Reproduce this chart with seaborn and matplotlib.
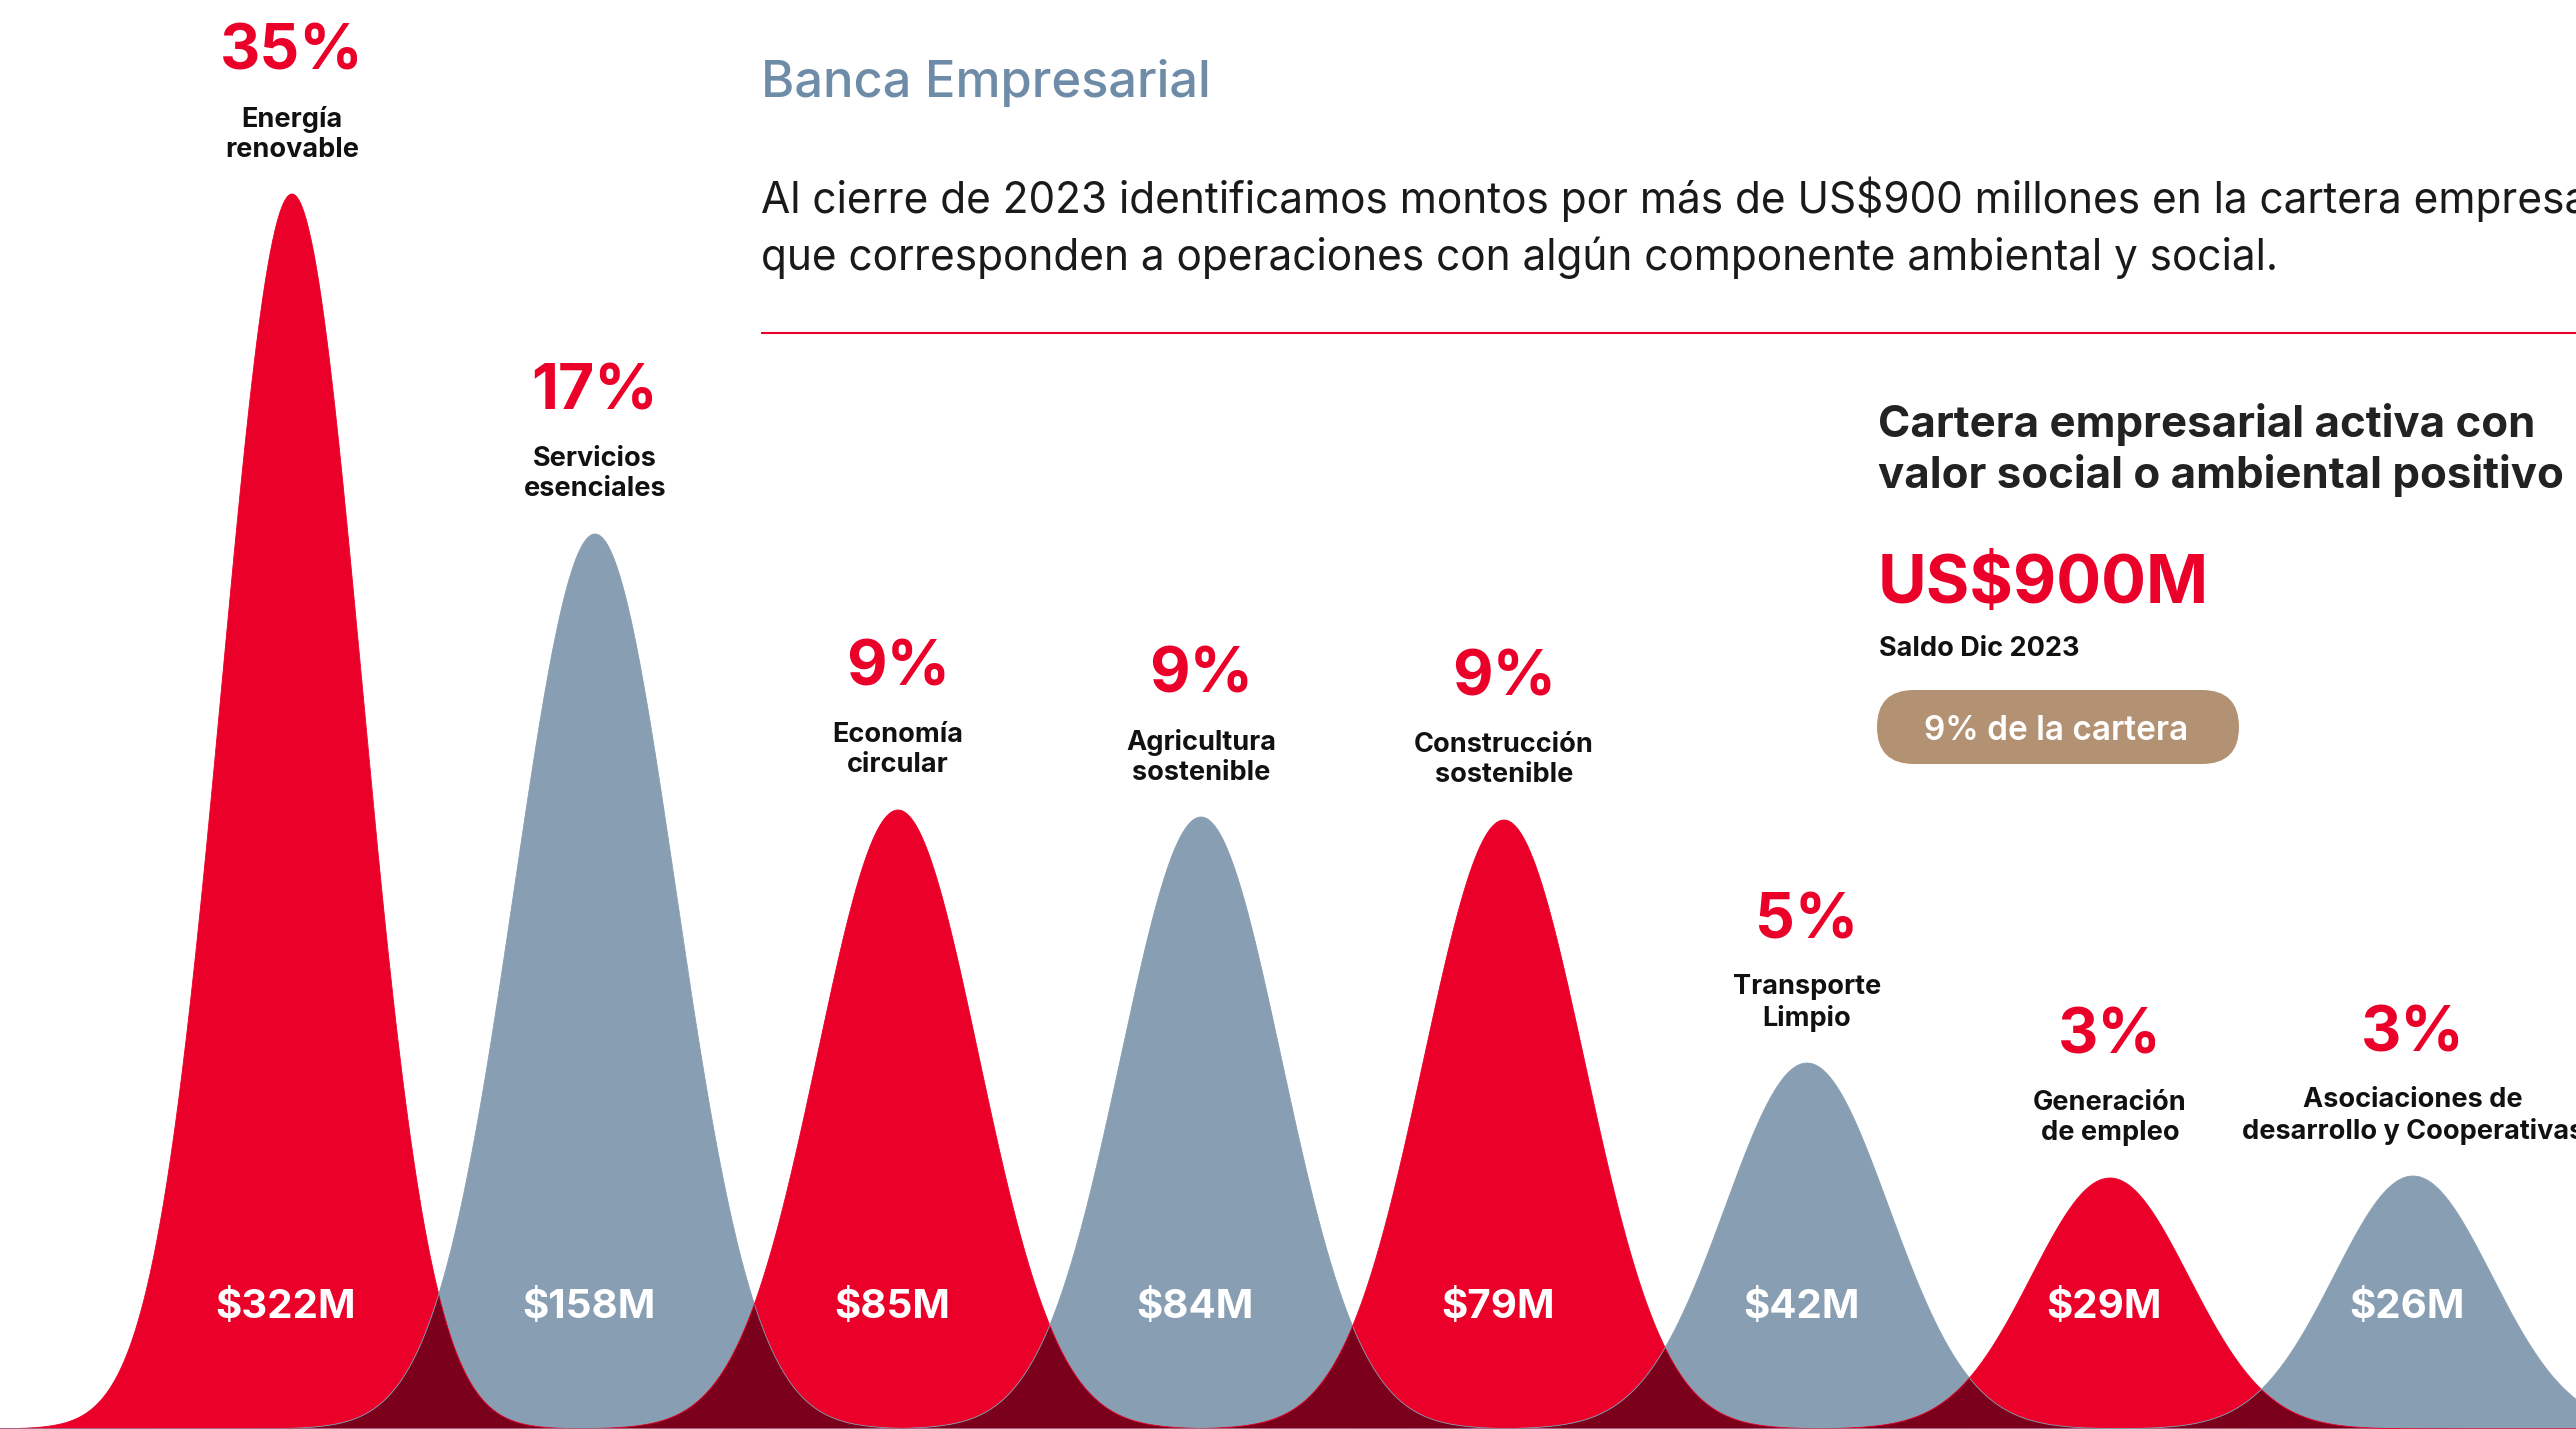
import numpy as np
import matplotlib.pyplot as plt
import seaborn as sns
from matplotlib.patches import FancyBboxPatch

# data
categories = ["Energía\nrenovable", "Servicios\nesenciales", "Economía\ncircular",
              "Agricultura\nsostenible", "Construcción\nsostenible", "Transporte\nLimpio",
              "Generación\nde empleo", "Asociaciones de\ndesarrollo y Cooperativas"]
shares = ["35%", "17%", "9%", "9%", "9%", "5%", "3%", "3%"]
amounts = ["$322M", "$158M", "$85M", "$84M", "$79M", "$42M", "$29M", "$26M"]
# visual height of each bell (same units as the y axis) and its spread
peak_heights = [1235, 895, 619, 612, 609, 366, 251, 253]
peak_spread = [0.23, 0.265, 0.265, 0.265, 0.265, 0.27, 0.26, 0.26]

RED = "#EB0029"
GRAY = "#889EB3"
DARK = "#7A001C"
TAN = "#B39274"
SLATE = "#6E8CA8"

sns.set_theme(style="white")
plt.rcParams['font.family'] = ['Inter', 'DejaVu Sans']

W, H = 2576, 1429
fig = plt.figure(figsize=(W / 100, H / 100), dpi=100)
ax = fig.add_axes([0, 0, 1, 1])
ax.set_xlim(-292 / 303, (W - 292) / 303)
ax.set_ylim(0, H)
ax.axis('off')

xs = np.linspace(-1.2, 7.8, 5000)
red_env = np.zeros_like(xs)
gray_env = np.zeros_like(xs)
for i, (h, s) in enumerate(zip(peak_heights, peak_spread)):
    curve = h * np.exp(-(xs - i) ** 2 / (2 * s ** 2))
    col = RED if i % 2 == 0 else GRAY
    ax.fill_between(xs, 0, curve, color=col, lw=0)
    sns.lineplot(x=xs, y=curve, color=col, lw=0.6, ax=ax, sort=False)
    if i % 2 == 0:
        red_env = np.maximum(red_env, curve)
    else:
        gray_env = np.maximum(gray_env, curve)

# overlap of neighbouring bells
ax.fill_between(xs, 0, np.minimum(red_env, gray_env), color=DARK, lw=0)

for i, (h, cat, sh, am) in enumerate(zip(peak_heights, categories, shares, amounts)):
    ax.annotate(sh, (i, h), xytext=(0, 141), textcoords='offset pixels',
                ha='center', va='center', fontsize=45, fontweight='bold', color=RED)
    ax.annotate(cat, (i, h), xytext=(0, 60), textcoords='offset pixels',
                ha='center', va='center', fontsize=19.5, fontweight='bold',
                color='#111111', linespacing=1.2)
    ax.text(i - 0.02, 121, am, ha='center', va='center', fontsize=29,
            fontweight='bold', color='white')

# right-hand text panel, in pixel coordinates
ov = fig.add_axes([0, 0, 1, 1])
ov.set_xlim(0, W)
ov.set_ylim(H, 0)
ov.axis('off')
ov.patch.set_alpha(0)

ov.text(761, 97, "Banca Empresarial", fontsize=36.5, color=SLATE,
        fontweight='medium', va='baseline')
ov.text(761, 213, "Al cierre de 2023 identificamos montos por más de US$900 millones en la cartera empresarial",
        fontsize=30.5, color='#1a1a1a', va='baseline')
ov.text(761, 270, "que corresponden a operaciones con algún componente ambiental y social.",
        fontsize=30.5, color='#1a1a1a', va='baseline')
ov.plot([761, W], [333, 333], color=RED, lw=1.5, solid_capstyle='butt')

ov.text(1878, 437, "Cartera empresarial activa con", fontsize=31.5,
        fontweight='bold', color='#222222', va='baseline')
ov.text(1878, 488, "valor social o ambiental positivo", fontsize=31.5,
        fontweight='bold', color='#222222', va='baseline')
ov.text(1878, 603, "US$900M", fontsize=48, fontweight='bold', color=RED, va='baseline')
ov.text(1879, 656, "Saldo Dic 2023", fontsize=19.5, fontweight='bold',
        color='#111111', va='baseline')

pill = FancyBboxPatch((1877 + 37, 690 + 37), 362 - 74, 0.001,
                      boxstyle="round,pad=37,rounding_size=37", fc=TAN, ec='none')
ov.add_patch(pill)
ov.text(2056, 740, "9% de la cartera", fontsize=24, fontweight='semibold',
        color='white', ha='center', va='baseline')

fig.savefig("out.png", dpi=100)
